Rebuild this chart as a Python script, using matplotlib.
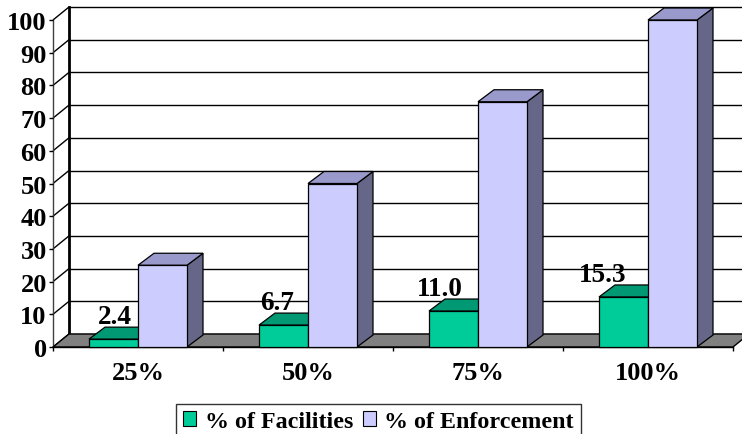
import matplotlib
matplotlib.use("Agg")
import matplotlib.pyplot as plt
from matplotlib.patches import Polygon, Patch

categories = ["25%", "50%", "75%", "100%"]
facilities = [2.4, 6.7, 11.0, 15.3]
enforcement = [25, 50, 75, 100]
series_names = ["% of Facilities", "% of Enforcement"]
yticks = list(range(0, 101, 10))

W, H = 742, 435
FONT = "Liberation Serif"

fig = plt.figure(figsize=(W / 100, H / 100), dpi=100)
# front plane of the 3-D box
left_px, right_px, bottom_px, top_px = 53, 733, 348, 21
ax = fig.add_axes([left_px / W, (H - bottom_px) / H,
                   (right_px - left_px) / W, (bottom_px - top_px) / H])
n = len(categories)
ax.set_xlim(0, n)
ax.set_ylim(0, 100)
ux = n / (right_px - left_px)        # data units per pixel (x)
uy = 100 / (bottom_px - top_px)      # data units per pixel (y)

# depth offsets
wall_dx, wall_dy = 16 * ux, 13 * uy
bar_dx, bar_dy = 16 * ux, 12 * uy
bar_w = 49 * ux

line_kw = dict(color="black", lw=1, clip_on=False, solid_capstyle="butt")

# back wall gridlines + left wall diagonals
for v in yticks:
    ax.plot([wall_dx, n + wall_dx + 1], [v + wall_dy, v + wall_dy], zorder=1, **line_kw)
    ax.plot([0, wall_dx], [v, v + wall_dy], zorder=1, **line_kw)
ax.plot([wall_dx, wall_dx], [wall_dy, 100 + wall_dy], color="black", lw=2,
        clip_on=False, zorder=1)
ax.plot([0, 0], [0, 100], color="#404040", lw=1, clip_on=False, zorder=1)

# floor
floor = Polygon([(0, 0), (n, 0), (n + wall_dx, wall_dy), (wall_dx, wall_dy)],
                closed=True, facecolor="#808080", edgecolor="black", lw=1,
                clip_on=False, zorder=2)
ax.add_patch(floor)

colors = {
    0: ("#00CC99", "#009973", "#006B50"),
    1: ("#CCCCFF", "#9999CC", "#666688"),
}

z = 3
def bar3d(x0, h, cidx):
    global z
    front, top, side = colors[cidx]
    x1 = x0 + bar_w
    pts_front = [(x0, 0), (x1, 0), (x1, h), (x0, h)]
    pts_top = [(x0, h), (x1, h), (x1 + bar_dx, h + bar_dy), (x0 + bar_dx, h + bar_dy)]
    pts_side = [(x1, 0), (x1 + bar_dx, bar_dy), (x1 + bar_dx, h + bar_dy), (x1, h)]
    for pts, fc in ((pts_side, side), (pts_top, top), (pts_front, front)):
        ax.add_patch(Polygon(pts, closed=True, facecolor=fc, edgecolor="black",
                             lw=0.9, joinstyle="miter", clip_on=False, zorder=z))
    z += 1

for i in range(n):
    c = i + 0.5
    bar3d(c - bar_w, facilities[i], 0)
    bar3d(c, enforcement[i], 1)

# data labels for facilities
for i, v in enumerate(facilities):
    xc = i + 0.5 - bar_w / 2 + (1.5 - 7.5 * i) * ux
    ax.text(xc, v + 16 * uy, f"{v:.1f}", ha="center", va="baseline",
            fontfamily=FONT, fontweight="bold", fontsize=19.5, zorder=50)

# axes styling
for s in ax.spines.values():
    s.set_visible(False)
ax.set_yticks(yticks)
ax.set_yticklabels([str(t) for t in yticks], fontfamily=FONT, fontweight="bold",
                   fontsize=19)
ax.tick_params(axis="y", direction="out", length=3, width=1, pad=1.5, color="black")
ax.set_xticks(range(n + 1))
ax.set_xticklabels([])
ax.tick_params(axis="x", which="major", direction="out", length=3, width=1, color="black")
ax.set_xticks([i + 0.5 for i in range(n)], minor=True)
ax.set_xticklabels(categories, minor=True, fontfamily=FONT, fontweight="bold",
                   fontsize=19)
ax.tick_params(axis="x", which="minor", length=0, pad=10)
ax.plot([0, n], [0, 0], color="black", lw=1, clip_on=False, zorder=2.5)
ax.set_facecolor("none")

handles = [Patch(facecolor=colors[0][0], edgecolor="black", lw=0.8),
           Patch(facecolor=colors[1][0], edgecolor="black", lw=0.8)]
leg = fig.legend(handles, series_names, loc="upper center",
                 bbox_to_anchor=(378.5 / W, (H - 405) / H), ncol=2,
                 prop=dict(family=FONT, weight="bold", size=17.3),
                 frameon=True, fancybox=False, edgecolor="black",
                 handlelength=0.55, handleheight=0.55, handletextpad=0.35,
                 columnspacing=0.4, borderpad=0.3, borderaxespad=0)
leg.get_frame().set_linewidth(1)

fig.savefig("out.png", dpi=100)
